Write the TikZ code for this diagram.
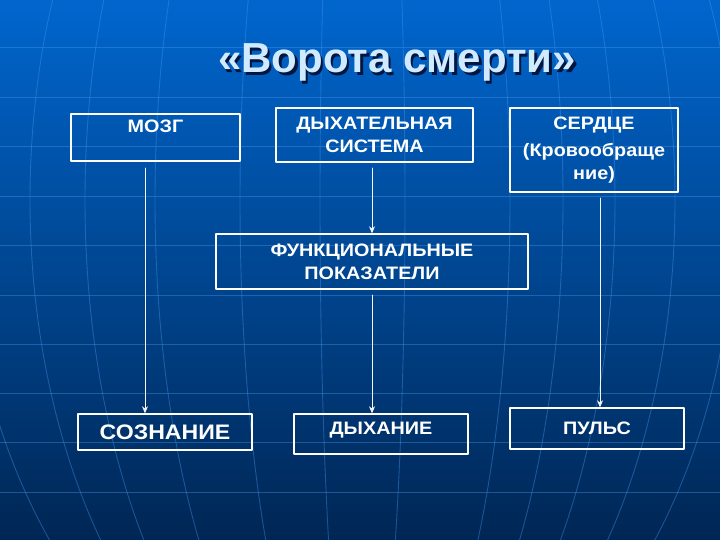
\documentclass[tikz,border=0pt]{standalone}
\usepackage{fontspec}
\setmainfont{Liberation Sans}
\newfontfamily\cardfont[FakeStretch=1.1]{Liberation Sans}
\usetikzlibrary{arrows.meta}
\definecolor{bgtop}{RGB}{0,102,206}
\definecolor{bgmid}{RGB}{6,68,150}
\definecolor{bgbot}{RGB}{0,38,84}
\definecolor{gridblue}{RGB}{70,150,235}
\definecolor{titleblue}{RGB}{208,234,255}
\definecolor{shadowblue}{RGB}{0,22,62}
\tikzset{
	card/.style={draw=white, line width=1.4pt, text=white, align=center, inner sep=0pt,
		font=\cardfont\bfseries\fontsize{18}{23}\selectfont},
	gridline/.style={gridblue, opacity=0.4, line width=0.9pt},
	link/.style={->, draw=white!92!gray, line width=0.8pt},
	headline/.style={font=\bfseries\fontsize{42}{42}\selectfont}
}
\begin{document}
\begin{tikzpicture}[x=1pt, y=-1pt, >={Stealth[length=7pt,width=6pt]}, line join=round, line cap=round]
	\shade[top color=bgtop, middle color=bgmid, bottom color=bgbot] (0,0) rectangle (720,540);
	\useasboundingbox (0,0) rectangle (720,540);
	
	\foreach \y in {47,97,146,196,245,295,344,393,442,492}
		\draw[gridline] (0,\y) -- (720,\y);
	\foreach \a in {-395,-330,-275,-205,-120,-40,45,150,203,255,315,375}
		\draw[gridline] plot[domain=-10:550, samples=40, smooth] ({360+\a*sqrt(1-((\x-200)/550)^2)}, \x);
	
	\node[headline] (title) at (397,64) {\rlap{\hspace{2.5pt}\raisebox{-2.5pt}{\color{shadowblue}«Ворота смерти»}}\color{titleblue}«Ворота смерти»};
	
	\node[card, minimum width=169pt, minimum height=47pt] (mozg) at (155.5,137.5) {МОЗГ\\\mbox{}};
	\node[card, minimum width=197pt, minimum height=54pt] (dyhsys) at (374.5,135) {ДЫХАТЕЛЬНАЯ\\СИСТЕМА};
	\node[card, minimum width=168pt, minimum height=84pt] (serdce) at (594,150) {СЕРДЦЕ\\[4pt](Кровообраще\\ние)};
	\node[card, minimum width=312pt, minimum height=55pt] (funk) at (372,261.5) {ФУНКЦИОНАЛЬНЫЕ\\ПОКАЗАТЕЛИ};
	\node[card, minimum width=174pt, minimum height=36pt, font=\cardfont\bfseries\fontsize{21}{24}\selectfont] (soznanie) at (165,432) {СОЗНАНИЕ};
	\node[card, minimum width=174pt, minimum height=40pt, text depth=11pt] (dyhanie) at (381,434) {ДЫХАНИЕ};
	\node[card, minimum width=174pt, minimum height=41pt] (puls) at (597,428.5) {ПУЛЬС};
	
	\coordinate (mozgout) at (145,168);
	\coordinate (dyhout) at (372,168);
	\coordinate (funkout) at (372,295);
	\coordinate (serdceout) at (600,198);
	
	\draw[link] (mozgout) -- (mozgout |- soznanie.north);
	\draw[link] (dyhout) -- (funk.north);
	\draw[link] (funkout) -- (funkout |- dyhanie.north);
	\draw[link] (serdceout) -- (serdceout |- puls.north);
	
\end{tikzpicture}
\end{document}
